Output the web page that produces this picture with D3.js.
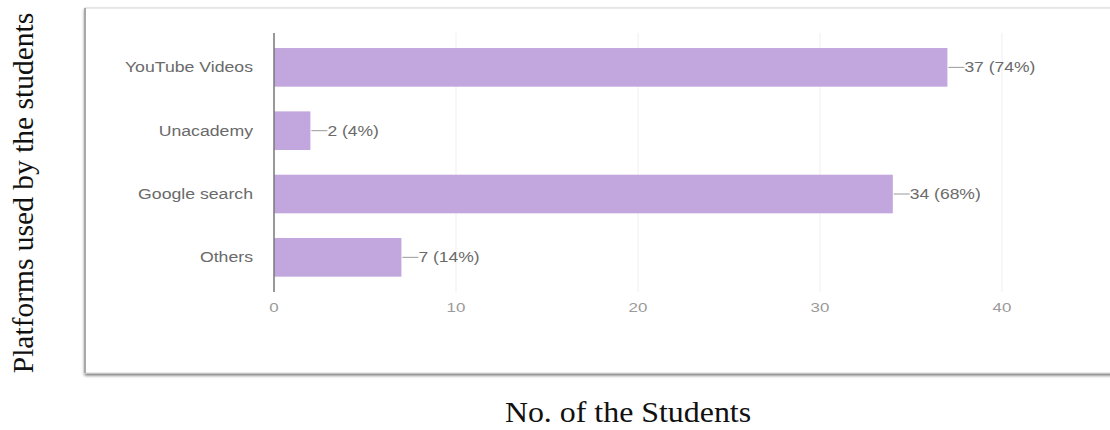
<!DOCTYPE html>
<html lang="en">
<head>
    <meta charset="UTF-8">
    <title>Platforms used by the students</title>
    <script src="https://cdn.jsdelivr.net/npm/d3@7"></script>
    <style>
        body { margin: 0; background: #fff; }
        .cat, .tick-label, .val { font-family: "Liberation Sans", Arial, sans-serif; }
        .title { font-family: "Liberation Serif", "Times New Roman", serif; fill: #111; }
    </style>
</head>
<body>

<svg width="1110" height="430"></svg>

<script>

    var categories = ["YouTube Videos", "Unacademy", "Google search", "Others"];
    var counts = [37, 2, 34, 7];
    var percents = ["74%", "4%", "68%", "14%"];
    var xTicks = [0, 10, 20, 30, 40];

    var svg = d3.select("svg");

    // defs for the frame's drop shadow
    var defs = svg.append("defs");
    var f = defs.append("filter").attr("id", "shadow")
            .attr("x", "-5%").attr("y", "-5%").attr("width", "110%").attr("height", "115%");
    f.append("feDropShadow").attr("dx", 0).attr("dy", 2).attr("stdDeviation", 1.6)
            .attr("flood-color", "#000").attr("flood-opacity", 0.55);

    // framed panel
    svg.append("rect")
            .attr("x", 85).attr("y", 8)
            .attr("width", 1040).attr("height", 365)
            .attr("fill", "#fff")
            .attr("stroke", "#d4d4d4")
            .attr("stroke-width", 1)
            .attr("filter", "url(#shadow)");
    svg.append("line")
            .attr("x1", 85).attr("x2", 85).attr("y1", 8).attr("y2", 373)
            .attr("stroke", "#a8a8a8").attr("stroke-width", 2);

    var x = d3.scaleLinear().domain([0, 40]).range([274, 1002]);
    var y = d3.scaleBand().domain(categories).range([35.7, 289])
            .paddingInner(0.39).paddingOuter(0.195);

    function mid(i) { return y(categories[i]) + y.bandwidth() / 2; }

    var g = svg.append("g");

    // faint gridlines
    g.selectAll("line.grid")
            .data(xTicks.slice(1))
            .enter()
            .append("line")
            .attr("class", "grid")
            .attr("x1", function(d) { return x(d); })
            .attr("x2", function(d) { return x(d); })
            .attr("y1", 33).attr("y2", 292)
            .attr("stroke", "#f6f3f7").attr("stroke-width", 1.5);

    // bars
    g.selectAll("rect.bar")
            .data(counts)
            .enter()
            .append("rect")
            .attr("class", "bar")
            .attr("x", x(0))
            .attr("y", function(d, i) { return y(categories[i]); })
            .attr("width", function(d) { return x(d) - x(0); })
            .attr("height", y.bandwidth())
            .attr("fill", "#c2a6de");

    // value labels with leader lines
    g.selectAll("line.lead")
            .data(counts)
            .enter()
            .append("line")
            .attr("class", "lead")
            .attr("x1", function(d) { return x(d) + 1; })
            .attr("x2", function(d) { return x(d) + 17; })
            .attr("y1", function(d, i) { return mid(i); })
            .attr("y2", function(d, i) { return mid(i); })
            .attr("stroke", "#999").attr("stroke-width", 1);

    g.selectAll("text.val")
            .data(counts)
            .enter()
            .append("text")
            .attr("class", "val")
            .attr("transform", function(d, i) {
                return "translate(" + (x(d) + 17) + "," + mid(i) + ") scale(1.25,1)";
            })
            .attr("dy", "0.35em")
            .attr("font-size", 14)
            .attr("fill", "#6a6a6a")
            .text(function(d, i) { return d + " (" + percents[i] + ")"; });

    // category labels
    g.selectAll("text.cat")
            .data(categories)
            .enter()
            .append("text")
            .attr("class", "cat")
            .attr("transform", function(d) {
                return "translate(253," + (y(d) + y.bandwidth() / 2) + ") scale(1.22,1)";
            })
            .attr("dy", "0.35em")
            .attr("text-anchor", "end")
            .attr("font-size", 14.5)
            .attr("fill", "#6a6a6a")
            .text(function(d) { return d; });

    // y axis line
    g.append("line")
            .attr("x1", x(0)).attr("x2", x(0))
            .attr("y1", 33).attr("y2", 292)
            .attr("stroke", "#777").attr("stroke-width", 1.5);

    // x tick labels
    g.selectAll("text.tick-label")
            .data(xTicks)
            .enter()
            .append("text")
            .attr("class", "tick-label")
            .attr("transform", function(d) { return "translate(" + x(d) + ",307) scale(1.3,1)"; })
            .attr("dy", "0.35em")
            .attr("text-anchor", "middle")
            .attr("font-size", 13)
            .attr("fill", "#9a9a9a")
            .text(function(d) { return d; });

    // axis titles
    svg.append("text")
            .attr("class", "title")
            .attr("transform", "translate(628,422) scale(1.1,1)")
            .attr("text-anchor", "middle")
            .attr("font-size", 29)
            .text("No. of the Students");

    svg.append("text")
            .attr("class", "title")
            .attr("transform", "translate(33,193) rotate(-90)")
            .attr("text-anchor", "middle")
            .attr("font-size", 29.5)
            .text("Platforms used by the students");

</script>

</body>
</html>
